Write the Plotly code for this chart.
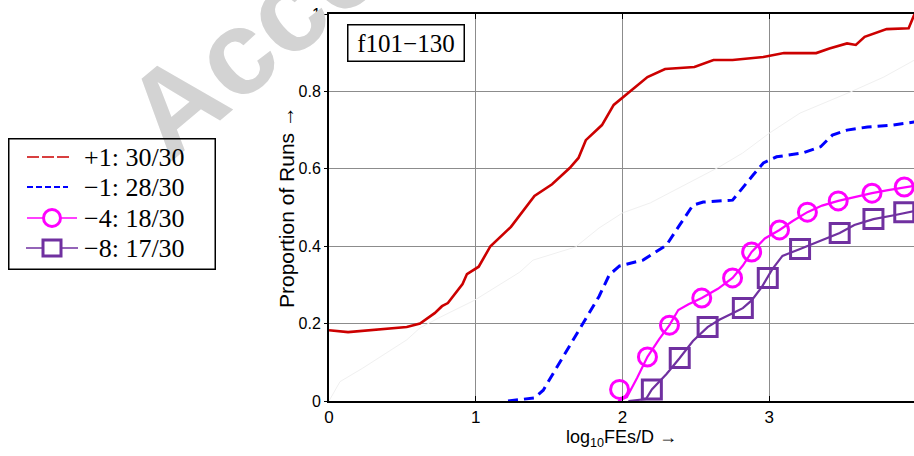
import plotly.graph_objects as go

# ---------------- data ----------------
x_p1 = [0, 0.13, 0.53, 0.62, 0.72, 0.77, 0.81, 0.85, 0.91, 0.94, 1.02, 1.10, 1.24, 1.40, 1.52, 1.64, 1.70,
        1.75, 1.86, 1.94, 2.05, 2.17, 2.29, 2.49, 2.62, 2.75, 2.96, 3.10, 3.32, 3.41, 3.53, 3.59, 3.65,
        3.80, 3.95, 3.99]
y_p1 = [0.183, 0.178, 0.191, 0.200, 0.227, 0.245, 0.253, 0.273, 0.302, 0.328, 0.347, 0.400, 0.450, 0.530,
        0.560, 0.602, 0.628, 0.674, 0.713, 0.765, 0.800, 0.837, 0.858, 0.863, 0.881, 0.881, 0.889, 0.899,
        0.899, 0.911, 0.924, 0.920, 0.941, 0.961, 0.963, 1.0]

x_m1 = [1.22, 1.40, 1.46, 1.81, 1.84, 1.91, 1.98, 2.14, 2.30, 2.39, 2.48, 2.55, 2.75, 2.89, 2.96, 3.05,
        3.23, 3.35, 3.43, 3.53, 3.67, 3.84, 3.99]
y_m1 = [0.0, 0.008, 0.028, 0.248, 0.270, 0.326, 0.349, 0.364, 0.403, 0.455, 0.506, 0.514, 0.519, 0.584,
        0.615, 0.631, 0.641, 0.657, 0.687, 0.700, 0.708, 0.713, 0.721]

x_m4 = [1.97, 2.03, 2.10, 2.17, 2.25, 2.32, 2.38, 2.45, 2.54, 2.65, 2.75, 2.82, 2.88, 2.97, 3.07, 3.16,
        3.26, 3.36, 3.47, 3.58, 3.70, 3.81, 3.92, 4.0]
y_m4 = [0.0, 0.01, 0.06, 0.114, 0.160, 0.196, 0.235, 0.250, 0.266, 0.290, 0.318, 0.350, 0.385, 0.420,
        0.442, 0.465, 0.488, 0.505, 0.517, 0.527, 0.537, 0.545, 0.553, 0.557]
x_m4_mk = [1.98, 2.17, 2.32, 2.54, 2.75, 2.88, 3.07, 3.26, 3.47, 3.70, 3.92]
y_m4_mk = [0.030, 0.114, 0.196, 0.266, 0.318, 0.385, 0.442, 0.488, 0.517, 0.537, 0.553]

x_m8 = [2.04, 2.16, 2.20, 2.30, 2.39, 2.48, 2.58, 2.66, 2.74, 2.82, 2.88, 2.95, 3.02, 3.09, 3.21, 3.35,
        3.48, 3.58, 3.71, 3.85, 4.0]
y_m8 = [0.0, 0.005, 0.030, 0.070, 0.111, 0.155, 0.191, 0.210, 0.225, 0.240, 0.260, 0.295, 0.340, 0.375,
        0.393, 0.415, 0.434, 0.455, 0.470, 0.480, 0.492]
x_m8_mk = [2.20, 2.39, 2.58, 2.82, 2.99, 3.21, 3.48, 3.71, 3.92]
y_m8_mk = [0.030, 0.111, 0.191, 0.240, 0.318, 0.393, 0.434, 0.470, 0.488]

x_ghost = [0, 0.075, 0.23, 0.39, 0.53, 0.62, 0.76, 0.99, 1.30, 1.39, 1.68, 1.84, 2.0, 2.19, 2.66, 2.82,
           3.0, 3.21, 3.55, 3.78, 3.99]
y_ghost = [0, 0.05, 0.085, 0.124, 0.158, 0.189, 0.217, 0.26, 0.333, 0.364, 0.398, 0.447, 0.486, 0.512,
           0.605, 0.641, 0.692, 0.744, 0.798, 0.837, 0.881]

legend_labels = ["+1: 30/30", "\u22121: 28/30", "\u22124: 18/30", "\u22128: 17/30"]
x_ticks = [0, 1, 2, 3, 4]
y_ticks = [0, 0.2, 0.4, 0.6, 0.8, 1]
y_ticktext = ["0", "0.2", "0.4", "0.6", "0.8", "1"]
panel_label = "f101\u2212130"
x_title = "log<sub>10</sub>FEs/D \u2192"
y_title = "Proportion of Runs \u2192"
watermark = "Accepted Manuscript"

RED = "#cc0000"
BLUE = "#0000ff"
MAG = "#ff00ff"
PUR = "#7030a0"

W, H = 914, 456
L, R, T, B = 329, 0, 14, 55
pw = W - L - R
ph = H - T - B


def px_x(p):
    return (p - L) / pw


def px_y(p):
    return (H - B - p) / ph


SANS = "Liberation Sans, Arial, Helvetica, sans-serif"
SERIF = "Liberation Serif, Times New Roman, serif"

fig = go.Figure()

fig.add_trace(go.Scatter(x=x_ghost, y=y_ghost, mode="lines", line=dict(color="#f0f0f0", width=1),
                         showlegend=False, hoverinfo="skip"))
fig.add_trace(go.Scatter(x=x_p1, y=y_p1, mode="lines", line=dict(color=RED, width=2.6), showlegend=False))
fig.add_trace(go.Scatter(x=x_m1, y=y_m1, mode="lines", line=dict(color=BLUE, width=3, dash="10px,6px"),
                         showlegend=False))
fig.add_trace(go.Scatter(x=x_m4, y=y_m4, mode="lines", line=dict(color=MAG, width=2.2), showlegend=False))
fig.add_trace(go.Scatter(x=x_m4_mk, y=y_m4_mk, mode="markers",
                         marker=dict(symbol="circle-open", size=18, color=MAG, line=dict(width=3, color=MAG)),
                         showlegend=False))
fig.add_trace(go.Scatter(x=x_m8, y=y_m8, mode="lines", line=dict(color=PUR, width=2.2), showlegend=False))
fig.add_trace(go.Scatter(x=x_m8_mk, y=y_m8_mk, mode="markers",
                         marker=dict(symbol="square-open", size=19, color=PUR, line=dict(width=3, color=PUR)),
                         showlegend=False))

fig.update_layout(
    width=W, height=H,
    margin=dict(l=L, r=R, t=T, b=B, pad=0),
    paper_bgcolor="white", plot_bgcolor="white",
    showlegend=False,
)

fig.update_xaxes(
    range=[0, pw / 146.75], tickvals=x_ticks, ticktext=[str(v) for v in x_ticks],
    ticks="inside", ticklen=5, tickcolor="black", tickwidth=1,
    mirror="allticks", showline=True, linecolor="black", linewidth=2,
    showgrid=True, gridcolor="#8c8c8c", gridwidth=1, zeroline=False,
    tickfont=dict(family=SANS, size=17, color="black"),
    title=dict(text=x_title, font=dict(family=SANS, size=18, color="black"), standoff=3),
)
fig.update_yaxes(
    range=[0, 1], tickvals=y_ticks, ticktext=y_ticktext,
    ticks="outside", ticklen=3, tickcolor="black", tickwidth=1,
    showline=True, linecolor="black", linewidth=2, mirror=False,
    showgrid=True, gridcolor="#8c8c8c", gridwidth=1, zeroline=False,
    tickfont=dict(family=SANS, size=16, color="black"),
)

# watermark (drawn first so the legend sits on top of it)
fig.add_annotation(
    text="<b>" + watermark + "</b>", xref="paper", yref="paper",
    x=px_x(96), y=px_y(185), xanchor="left", yanchor="bottom",
    textangle=-40, showarrow=False,
    font=dict(family=SANS, size=120, color="#d3d3d3"),
)

# y axis title, placed close to the tick labels
fig.add_annotation(
    text=y_title, xref="paper", yref="paper",
    x=px_x(287), y=px_y(207), xanchor="center", yanchor="middle",
    textangle=-90, showarrow=False,
    font=dict(family=SANS, size=21, color="black"),
)

# panel label
fig.add_annotation(
    text=panel_label, xref="paper", yref="paper",
    x=px_x(406), y=px_y(42.5), xanchor="center", yanchor="middle",
    showarrow=False, bgcolor="white", bordercolor="black", borderwidth=1.5, borderpad=1,
    width=113, height=33,
    font=dict(family=SERIF, size=25, color="black"),
)

# ---- manual legend (outside the axes, left side) ----
row_y = [157, 187, 218, 248]
fig.add_annotation(
    text=" ", xref="paper", yref="paper",
    x=px_x(112), y=px_y(204), xanchor="center", yanchor="middle",
    showarrow=False, bgcolor="rgba(0,0,0,0)", bordercolor="black", borderwidth=1.5, borderpad=0,
    width=205, height=129,
)
sample_styles = [
    dict(color=RED, width=1.5, dash="12px,3px", x0=27, x1=70),
    dict(color=BLUE, width=2, dash="6px,3px", x0=27, x1=68),
    dict(color=MAG, width=1.5, dash="solid", x0=27, x1=77),
    dict(color=PUR, width=1.5, dash="solid", x0=26, x1=78),
]
for yy, st in zip(row_y, sample_styles):
    fig.add_shape(type="line", xref="paper", yref="paper",
                  x0=px_x(st["x0"]), x1=px_x(st["x1"]), y0=px_y(yy), y1=px_y(yy),
                  line=dict(color=st["color"], width=st["width"], dash=st["dash"]))
fig.add_shape(type="circle", xref="paper", yref="paper",
              x0=px_x(52 - 8.5), x1=px_x(52 + 8.5), y0=px_y(row_y[2] - 8.5), y1=px_y(row_y[2] + 8.5),
              line=dict(color=MAG, width=3), fillcolor="white")
fig.add_shape(type="rect", xref="paper", yref="paper",
              x0=px_x(52 - 9), x1=px_x(52 + 9), y0=px_y(row_y[3] - 8), y1=px_y(row_y[3] + 8),
              line=dict(color=PUR, width=3), fillcolor="white")
for yy, lab in zip(row_y, legend_labels):
    fig.add_annotation(
        text=lab, xref="paper", yref="paper",
        x=px_x(82), y=px_y(yy), xanchor="left", yanchor="middle",
        showarrow=False, font=dict(family=SERIF, size=26, color="black"),
    )

fig.write_html("out.html")
